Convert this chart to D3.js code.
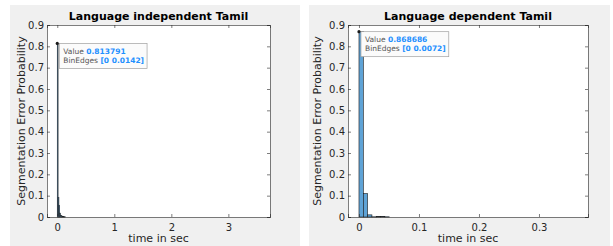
<!DOCTYPE html>
<html>
<head>
<meta charset="utf-8">
<script src="https://cdn.jsdelivr.net/npm/d3@7"></script>
<style>
body { margin: 0; background: #fff; }
svg { display: block; font-family: "DejaVu Sans", sans-serif; }
</style>
</head>
<body>
<div id="chart"></div>
<script>
// DATA
var titles = ["Language independent Tamil", "Language dependent Tamil"];
var binWidths = [0.0142, 0.0072];
var binValues = [
  [0.813791, 0.092, 0.055, 0.018, 0.008, 0.005, 0.003, 0.002, 0.001, 0.001],
  [0.868686, 0.11, 0.01, 0.001, 0.003, 0.003, 0.001]
];
var xTicks = [[0, 1, 2, 3], [0, 0.1, 0.2, 0.3]];
var xDomains = [[-0.18, 3.73], [-0.0183, 0.3817]];
var yTicks = [0, 0.1, 0.2, 0.3, 0.4, 0.5, 0.6, 0.7, 0.8, 0.9];
var tipLabels = [["0.813791", "[0 0.0142]"], ["0.868686", "[0 0.0072]"]];

var W = 613, H = 246;
var svg = d3.select("#chart").append("svg")
  .attr("width", W)
  .attr("height", H);

// panel layouts
var panels = [
  { bgx: 10, bgw: 290, left: 47, right: 270, ylab: 25 },
  { bgx: 309, bgw: 301, left: 348, right: 588, ylab: 321 }
];
var plotTop = 25, plotBottom = 217;

panels.forEach(function(p, i) {
  var g = svg.append("g");
  g.append("rect")
    .attr("x", p.bgx).attr("y", 5)
    .attr("width", p.bgw).attr("height", H - 5)
    .attr("fill", "#f0f0f0");

  var x = d3.scaleLinear().domain(xDomains[i]).range([p.left, p.right]);
  var y = d3.scaleLinear().domain([0, 0.9]).range([plotBottom, plotTop]);

  g.append("rect")
    .attr("x", p.left).attr("y", plotTop)
    .attr("width", p.right - p.left).attr("height", plotBottom - plotTop)
    .attr("fill", "#fff");

  // bars
  g.selectAll("rect.bar")
    .data(binValues[i])
    .enter().append("rect")
    .attr("class", "bar")
    .attr("x", function(d, k) { return x(k * binWidths[i]); })
    .attr("width", function(d, k) { return x((k + 1) * binWidths[i]) - x(k * binWidths[i]); })
    .attr("y", function(d) { return y(d); })
    .attr("height", function(d) { return y(0) - y(d); })
    .attr("fill", "#5fa3d6")
    .attr("stroke", "#1a1a1a")
    .attr("stroke-width", 0.6);

  // axes
  var yAxis = d3.axisLeft(y).tickValues(yTicks).tickSize(-3).tickPadding(3)
    .tickFormat(function(d) { return d === 0 ? "0" : d3.format(".1f")(d); });
  var xAxis = d3.axisBottom(x).tickValues(xTicks[i]).tickSize(-3).tickPadding(7)
    .tickFormat(function(d) { return d === 0 ? "0" : String(d); });

  var ya = g.append("g").attr("transform", "translate(" + p.left + ",0)").call(yAxis);
  var xa = g.append("g").attr("transform", "translate(0," + plotBottom + ")").call(xAxis);
  var yr = g.append("g").attr("transform", "translate(" + p.right + ",0)")
    .call(d3.axisRight(y).tickValues(yTicks).tickSize(-3).tickFormat(""));
  var xt = g.append("g").attr("transform", "translate(0," + plotTop + ")")
    .call(d3.axisTop(x).tickValues(xTicks[i]).tickSize(-3).tickFormat(""));
  [ya, xa, yr, xt].forEach(function(a) {
    a.select(".domain").attr("stroke", "#262626").attr("stroke-width", 0.6);
    a.selectAll(".tick line").attr("stroke", "#262626").attr("stroke-width", 0.6);
    a.selectAll(".tick text").attr("fill", "#262626").style("font-size", "10px")
      .style("font-family", "DejaVu Sans, sans-serif");
  });

  // title
  g.append("text")
    .attr("x", (p.left + p.right) / 2).attr("y", 20)
    .attr("text-anchor", "middle")
    .style("font-size", "11px").style("font-weight", "bold")
    .attr("fill", "#000")
    .text(titles[i]);

  // axis labels
  g.append("text")
    .attr("x", (p.left + p.right) / 2).attr("y", 242)
    .attr("text-anchor", "middle")
    .style("font-size", "11px").attr("fill", "#262626")
    .text("time in sec");
  g.append("text")
    .attr("transform", "translate(" + p.ylab + "," + ((plotTop + plotBottom) / 2) + ") rotate(-90)")
    .attr("text-anchor", "middle")
    .style("font-size", "11px").attr("fill", "#262626")
    .text("Segmentation Error Probability");

  // datatip
  var tx = x(0), ty = y(binValues[i][0]);
  g.append("circle").attr("cx", tx).attr("cy", ty).attr("r", 1.6).attr("fill", "#1a1a1a");
  var box = g.append("g").attr("transform", "translate(" + (tx + 2) + "," + ty + ")");
  var rect = box.append("rect")
    .attr("height", 25)
    .attr("fill", "#fbfbfb").attr("stroke", "#a0a0a0").attr("stroke-width", 0.7);
  var t1 = box.append("text").attr("x", 4).attr("y", 10.5).style("font-size", "7.5px");
  t1.append("tspan").attr("fill", "#555").text("Value ");
  t1.append("tspan").attr("fill", "#1e90ff").style("font-weight", "bold").text(tipLabels[i][0]);
  var t2 = box.append("text").attr("x", 4).attr("y", 19.5).style("font-size", "7.5px");
  t2.append("tspan").attr("fill", "#555").text("BinEdges ");
  t2.append("tspan").attr("fill", "#1e90ff").style("font-weight", "bold").text(tipLabels[i][1]);
  var bw = Math.max(t1.node().getComputedTextLength(), t2.node().getComputedTextLength());
  rect.attr("width", bw + 7);
});
</script>
</body>
</html>
